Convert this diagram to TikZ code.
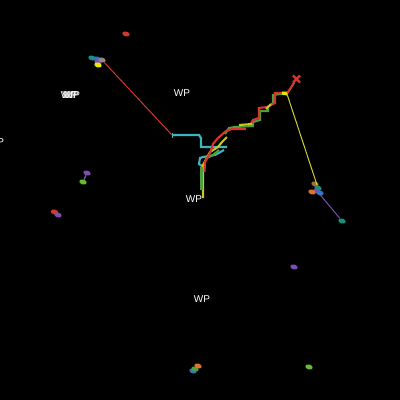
\documentclass[tikz,border=0pt]{standalone}
\usepackage{fontspec}
\setmainfont{Liberation Sans}
\usetikzlibrary{positioning,shapes.geometric,shapes.misc}
\definecolor{trackred}{HTML}{D8352F}
\definecolor{trackgreen}{HTML}{4E9F3D}
\definecolor{trackyellow}{HTML}{C8C81E}
\definecolor{trackcyan}{HTML}{3FB4BC}
\definecolor{trackpurple}{HTML}{7B4FB0}
\definecolor{blobteal}{HTML}{16917A}
\definecolor{blobblue}{HTML}{2F78C0}
\definecolor{bloborange}{HTML}{E0702A}
\definecolor{blobgray}{HTML}{8A8A8A}
\definecolor{blobbrown}{HTML}{A0703A}
\definecolor{bloblime}{HTML}{66BB33}
\begin{document}
\begin{tikzpicture}[x=1pt,y=-1pt,
    wp node/.style={text=white,font=\fontsize{10}{10}\selectfont,inner sep=0pt},
    blob/.style={ellipse,minimum width=7.5pt,minimum height=5pt,inner sep=0pt,rotate=-15},
    track/.style={line width=2.1pt,line join=miter},
    thin track/.style={line width=1pt}]
\fill[black] (0,0) rectangle (400,400);
\useasboundingbox (0,0) rectangle (400,400);

% blobs
\node[blob,fill=trackred]    (r0)  at (126,34)  {};
\node[blob,fill=blobteal]    (a0)  at (92,58)   {};
\node[blob,fill=blobblue]    (a1)  at (97,59)   {};
\node[blob,fill=trackpurple] (a2)  at (98,62)   {};
\node[blob,fill=yellow!90!green] (a3) at (98,65) {};
\node[blob,fill=blobgray]    (a4)  at (102,60)  {};
\node[blob,fill=trackpurple] (b0)  at (87,173)  {};
\node[blob,fill=bloblime]    (b1)  at (83,182)  {};
\node[blob,fill=trackred]    (c0)  at (54.5,212) {};
\node[blob,fill=trackpurple] (c1)  at (58,215)  {};
\node[blob,fill=blobbrown]   (d0)  at (315,184) {};
\node[blob,fill=blobteal]    (d1)  at (318,188) {};
\node[blob,fill=trackpurple] (d2)  at (317,191) {};
\node[blob,fill=bloborange]  (d3)  at (312,192) {};
\node[blob,fill=blobblue]    (d4)  at (320,193) {};
\node[blob,fill=blobteal]    (d5)  at (342,221) {};
\node[blob,fill=trackpurple] (e0)  at (294,267) {};
\node[blob,fill=blobblue]    (f0)  at (193,371) {};
\node[blob,fill=trackgreen]  (f1)  at (195,369) {};
\node[blob,fill=bloborange]  (f2)  at (198,366) {};
\node[blob,fill=bloblime]    (g0)  at (309,367) {};

% cross at the far end
\node[cross out,draw=trackred,line width=2.2pt,minimum size=5pt,inner sep=0pt] (x0) at (296.5,79) {};

\coordinate (turn) at (172,135);
\coordinate (top) at (287,94);
\coordinate (base) at (202,198);

% straight tracks
\draw[thin track,trackred]    (a4) -- (turn);
\draw[thin track,trackyellow!90!white] (top) -- (d1);
\draw[thin track,trackpurple] (d2) -- (d5);
\draw[line width=1.4pt,trackpurple] (b0) -- (b1);
\draw[line width=1.4pt,trackcyan]   (top) -- (x0);

% stepped tracks
\draw[track,trackcyan] (turn) -- (199,135) -- (201,138) -- (201,147) -- (227,147);
\draw[track,trackcyan] (224,150) -- (215,155) -- (203,157) -- (200,158) -- (199,164)
    -- (202,166) -- (202,176);
\draw[track,trackyellow] (203,198) -- (203,165) -- (210,152) -- (218,147) -- (222,142) -- (227,137);
\draw[track,trackgreen] (201.5,190) -- (201.5,167);
\draw[track,trackgreen] (207,158) -- (213,155) -- (219,150);
\draw[track,trackgreen] (225,134) -- (229,128) -- (235,127) -- (253,126) -- (253,122)
    -- (260,120) -- (260,111) -- (268,111) -- (268,107) -- (273,103) -- (273,95)
    -- (280,94) -- (top);
\draw[track,trackred] (204.5,172) -- (205,162) -- (210,153) -- (213,144) -- (218,138) -- (226,131)
    -- (232,129) -- (246,129);
\draw[track,trackred] (250,125) -- (253,120) -- (259,118) -- (259,108) -- (267,107)
    -- (275,103) -- (275,93) -- (280,93) -- (288,92) -- (x0);
\draw[track,trackyellow] (239,125) -- (252,124);
\draw[track,trackyellow] (266,109) -- (271,104);
\draw[line width=3pt,yellow!90!green] (282,93) -- (top);
\draw[trackcyan,line width=1pt] (172,132.5) -- (172,137.5);

% labels
\node[wp node] (wp1) at (182,93)  {WP};
\node[wp node] (wp2) at (194,199) {WP};
\node[wp node] (wp3) at (202,299) {WP};
\node[wp node] (wp4) at (69,95)   {WP};
\node[wp node] (wp5) at (70.5,95) {WP};
\node[wp node] (wp6) at (72,95)   {WP};
\node[wp node] (wp7) at (-4,142)  {WP};
\end{tikzpicture}
\end{document}
